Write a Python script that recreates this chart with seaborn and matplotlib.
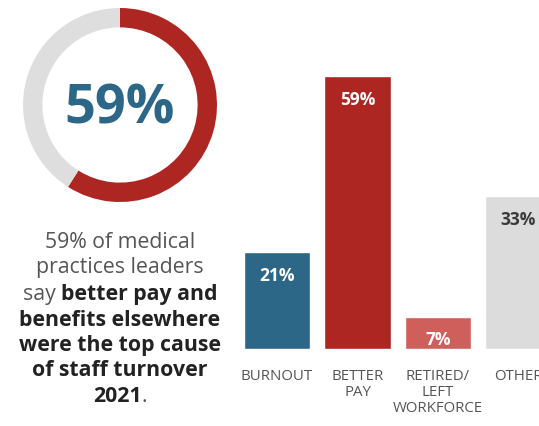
import matplotlib
matplotlib.use("Agg")
import matplotlib.pyplot as plt
import seaborn as sns
import pandas as pd

# --- data ---
headline_pct = 59
categories = ["BURNOUT", "BETTER\nPAY", "RETIRED/\nLEFT\nWORKFORCE", "OTHER"]
values = [21, 59, 7, 33]
bar_colors = ["#2C6787", "#AE2622", "#CF5F5A", "#DCDCDC"]
label_colors = ["white", "white", "white", "#3A3A3A"]

RED = "#AE2622"
BLUE = "#2C6787"
RING_GREY = "#DEDEDE"
TEXT_GREY = "#555555"

sns.set_theme(style="white")
plt.rcParams["font.family"] = ["Open Sans", "DejaVu Sans"]

W, H = 539, 427
fig = plt.figure(figsize=(W / 100, H / 100), dpi=100)
fig.patch.set_facecolor("white")


def px_axes(x0, y0, x1, y1):
    """Axes from pixel box (top-left origin)."""
    return fig.add_axes([x0 / W, 1 - y1 / H, (x1 - x0) / W, (y1 - y0) / H])


# --- donut ---
ax_d = px_axes(23, 9, 217, 203)
ax_d.pie([headline_pct, 100 - headline_pct], colors=[RED, RING_GREY],
         startangle=90, counterclock=False, radius=1.0,
         wedgeprops=dict(width=0.2, linewidth=0))
ax_d.set_xlim(-1, 1)
ax_d.set_ylim(-1, 1)
ax_d.set_aspect("auto")
ax_d.axis("off")
ax_d.text(0, -0.04, f"{headline_pct}%", ha="center", va="center",
          fontsize=39, fontweight="bold", color=BLUE)

# --- description text with mixed weights, centred line by line ---
lines = [
    [("59% of medical", "normal")],
    [("practices leaders", "normal")],
    [("say ", "normal"), ("better pay and", "bold")],
    [("benefits elsewhere", "bold")],
    [("were the top cause", "bold")],
    [("of staff turnover", "bold")],
    [("2021", "bold"), (".", "normal")],
]
line_y = [243, 268, 295, 320, 346, 371, 397]
cx = 120
fs = 15.3
renderer = fig.canvas.get_renderer()
for segs, y in zip(lines, line_y):
    texts = []
    widths = []
    for s, wt in segs:
        t = fig.text(0, 1 - y / H, s, fontsize=fs, fontweight=wt,
                     color=TEXT_GREY if wt == "normal" else "#222222",
                     va="center", ha="left")
        bb = t.get_window_extent(renderer=renderer)
        texts.append(t)
        widths.append(bb.width)
    total = sum(widths)
    x = cx - total / 2
    for t, w in zip(texts, widths):
        t.set_x(x / W)
        x += w

# --- bar chart ---
df = pd.DataFrame({"category": categories, "value": values})
spacing = 80.5
first_center = 277
ax_b = px_axes(230, 77, 539, 350)
sns.barplot(data=df, x="category", y="value", hue="category",
            palette=bar_colors, legend=False, width=0.82, saturation=1,
            ax=ax_b)
ax_b.set_ylim(0, max(values))
ax_b.set_xlim(-(first_center - 230) / spacing, (539 - first_center) / spacing)
ax_b.set_xlabel("")
ax_b.set_ylabel("")
ax_b.set_yticks([])
sns.despine(ax=ax_b, left=True, bottom=True)
ax_b.tick_params(axis="x", length=0, pad=14, labelsize=10.8, labelcolor=TEXT_GREY)
for lbl in ax_b.get_xticklabels():
    lbl.set_linespacing(1.05)
    lbl.set_verticalalignment("top")

for i, (v, c) in enumerate(zip(values, label_colors)):
    ax_b.annotate(f"{v}%", (i, v), xytext=(0, -10), textcoords="offset points",
                  ha="center", va="top", fontsize=12.5, fontweight="bold", color=c)

fig.savefig("out.png", dpi=100, facecolor="white")
